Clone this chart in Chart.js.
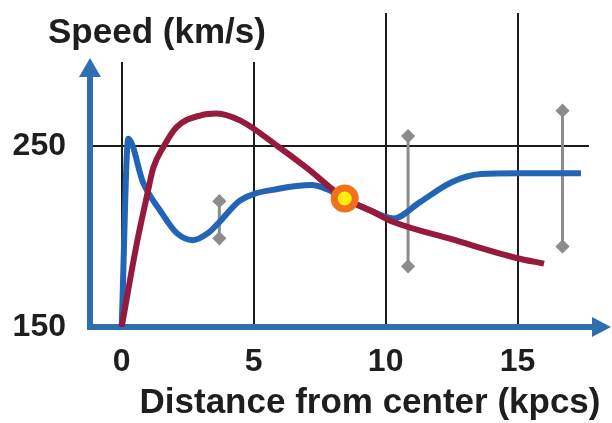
<!DOCTYPE html>
<html>
<head>
<meta charset="utf-8">
<script src="https://cdn.jsdelivr.net/npm/chart.js@4.4.0/dist/chart.umd.min.js"></script>
<style>
  html, body { margin: 0; padding: 0; background: #fff; }
  #wrap { width: 612px; height: 423px; }
</style>
</head>
<body>
<div id="wrap"><canvas id="chart" width="612" height="423"></canvas></div>
<script>
// galaxy rotation curve - distance (kpcs) vs speed (km/s)

// observed curve (blue)
const blueX = [0, 0.25, 0.82, 1.45, 2.08, 2.7, 3.28, 3.7, 4.5, 6.0, 7.2, 7.8, 8.45, 9.4, 10.3, 11.3, 12.5, 13.6, 15, 17.4];
const blueY = [150, 254, 229.5, 214.5, 202, 198, 202, 208, 220, 226.5, 228.5, 226, 221, 214.5, 210, 219, 230, 234.5, 235, 235];

// predicted curve (red)
const redX = [0, 0.57, 0.95, 1.2, 1.58, 2.08, 3.0, 3.6, 4.5, 5.9, 7.0, 8.45, 9.4, 10.3, 12.5, 15, 16];
const redY = [150, 196, 222, 238, 249.5, 260.5, 267, 268, 264, 250, 238, 221, 214.5, 208, 198.5, 188, 185];

// error bars
const errX = [3.7, 10.85, 16.7];
const errLow = [199, 183.5, 194.5];
const errHigh = [219.5, 255.5, 269.5];

// sun position
const sunX = [8.45];
const sunY = [221];

const xTicks = [0, 5, 10, 15];
const yTicks = [150, 250];

const FONT = '"Liberation Sans", Arial, sans-serif';
const TEXT = '#1e1e1e';
const AXIS_BLUE = '#2f6fb0';

function toPoints(xs, ys) {
    return xs.map(function(x, i) { return { x: x, y: ys[i] }; });
}

// no automatic edge padding for the tick labels
function noPadding(s) {
    s.paddingTop = 0;
    s.paddingBottom = 0;
    s.paddingLeft = 0;
    s.paddingRight = 0;
}

// gridlines, arrow axes and titles
const decorPlugin = {
    id: 'decor',
    beforeDatasetsDraw(chart) {
        const ctx = chart.ctx, a = chart.chartArea;
        const xs = chart.scales.x, ys = chart.scales.y;
        ctx.save();
        ctx.strokeStyle = '#1c1c1c';
        ctx.lineWidth = 2;
        xTicks.forEach(function(v) {
            const px = Math.round(xs.getPixelForValue(v));
            const top = v >= 10 ? a.top : a.top + 49;
            ctx.beginPath();
            ctx.moveTo(px, top);
            ctx.lineTo(px, a.bottom);
            ctx.stroke();
        });
        const py = Math.round(ys.getPixelForValue(250));
        ctx.beginPath();
        ctx.moveTo(a.left, py);
        ctx.lineTo(a.right - 21, py);
        ctx.stroke();

        // axes
        ctx.strokeStyle = AXIS_BLUE;
        ctx.fillStyle = AXIS_BLUE;
        ctx.lineWidth = 6;
        const ox = a.left, oy = a.bottom;
        const yTip = a.top + 45, xTip = a.right + 1;
        ctx.beginPath();
        ctx.moveTo(ox, oy + 3);
        ctx.lineTo(ox, yTip + 16);
        ctx.stroke();
        ctx.beginPath();
        ctx.moveTo(ox - 11, yTip + 19);
        ctx.lineTo(ox, yTip);
        ctx.lineTo(ox + 11, yTip + 19);
        ctx.closePath();
        ctx.fill();
        ctx.beginPath();
        ctx.moveTo(ox - 3, oy);
        ctx.lineTo(xTip - 16, oy);
        ctx.stroke();
        ctx.beginPath();
        ctx.moveTo(xTip - 19, oy - 10);
        ctx.lineTo(xTip, oy);
        ctx.lineTo(xTip - 19, oy + 10);
        ctx.closePath();
        ctx.fill();
        ctx.restore();
    },
    afterDraw(chart) {
        const ctx = chart.ctx;
        ctx.save();
        ctx.fillStyle = TEXT;
        ctx.font = 'bold 35px ' + FONT;
        ctx.textBaseline = 'middle';
        ctx.textAlign = 'left';
        ctx.fillText('Speed (km/s)', 48, 33);
        ctx.textAlign = 'center';
        ctx.fillText('Distance from center (kpcs)', 370, 403);
        ctx.restore();
    }
};

const errSets = errX.map(function(x, i) {
    return {
        label: 'error ' + (i + 1),
        data: [{ x: x, y: errLow[i] }, { x: x, y: errHigh[i] }],
        borderColor: '#8c8c8c',
        borderWidth: 3,
        pointStyle: 'rectRot',
        pointRadius: 5,
        pointBackgroundColor: '#8c8c8c',
        pointBorderColor: '#8c8c8c',
        order: 3
    };
});

new Chart(document.getElementById('chart'), {
    type: 'line',
    data: {
        datasets: [{
            label: 'Sun',
            type: 'scatter',
            data: toPoints(sunX, sunY),
            pointRadius: 10.5,
            pointBorderWidth: 7,
            pointBackgroundColor: '#ffec10',
            pointBorderColor: '#f2701a',
            order: 0
        }, {
            label: 'Predicted',
            data: toPoints(redX, redY),
            borderColor: '#961a3c',
            borderWidth: 6,
            pointRadius: 0,
            cubicInterpolationMode: 'monotone',
            order: 1
        }, {
            label: 'Observed',
            data: toPoints(blueX, blueY),
            borderColor: '#2264b6',
            borderWidth: 6,
            pointRadius: 0,
            cubicInterpolationMode: 'monotone',
            order: 2
        }].concat(errSets)
    },
    options: {
        responsive: false,
        animation: false,
        events: [],
        layout: { autoPadding: false, padding: { top: 13, right: 2, left: 0, bottom: 0 } },
        plugins: { legend: { display: false }, tooltip: { enabled: false } },
        scales: {
            x: {
                type: 'linear',
                min: -1.2,
                max: 18.5,
                afterBuildTicks: function(s) { s.ticks = xTicks.map(function(v) { return { value: v }; }); },
                afterFit: function(s) { s.height = 96; noPadding(s); },
                ticks: {
                    font: { family: FONT, size: 32, weight: 'bold' },
                    color: TEXT,
                    padding: 16,
                    maxRotation: 0,
                    autoSkip: false
                },
                grid: { display: false, drawTicks: false },
                border: { display: false }
            },
            y: {
                type: 'linear',
                min: 150,
                max: 323.5,
                afterBuildTicks: function(s) { s.ticks = yTicks.map(function(v) { return { value: v }; }); },
                afterFit: function(s) { s.width = 90; noPadding(s); },
                ticks: {
                    font: { family: FONT, size: 32, weight: 'bold' },
                    color: TEXT,
                    padding: 24,
                    autoSkip: false
                },
                grid: { display: false, drawTicks: false },
                border: { display: false }
            }
        }
    },
    plugins: [decorPlugin]
});
</script>
</body>
</html>
